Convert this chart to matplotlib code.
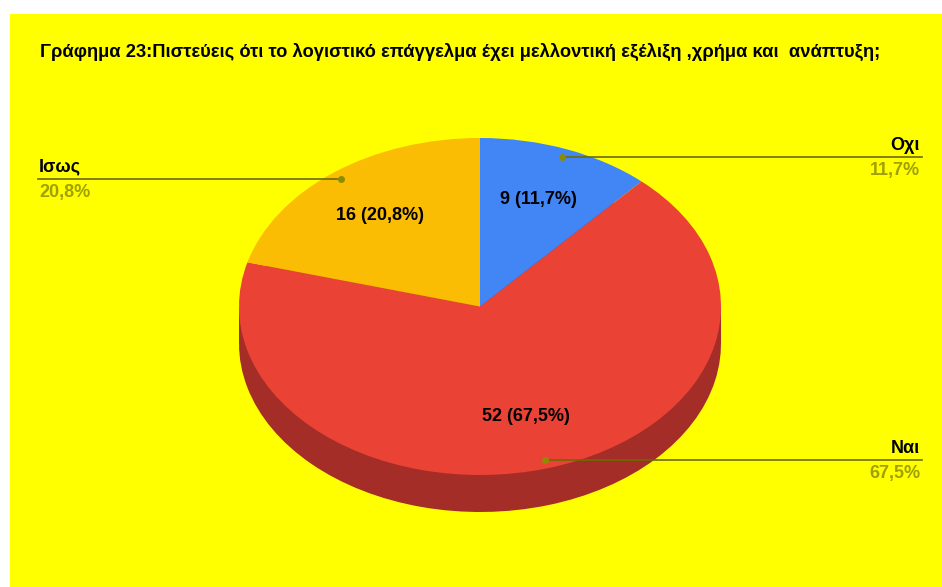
import matplotlib
matplotlib.use("Agg")
import matplotlib.pyplot as plt
import numpy as np
from matplotlib.patches import Rectangle

# data
labels = ["Οχι", "Ναι", "Ισως"]
counts = [9, 52, 16]
colors = ["#4285F4", "#EA4335", "#FBBC04"]
side_colors = ["#2A5BAA", "#A52D27", "#B08402"]
title = "Γράφημα 23:Πιστεύεις ότι το λογιστικό επάγγελμα έχει μελλοντική εξέλιξη ,χρήμα και  ανάπτυξη;"

W, H = 942, 587
fig = plt.figure(figsize=(W / 100, H / 100), dpi=100)
fig.patch.set_facecolor("white")

# overlay axes in pixel coordinates
ax = fig.add_axes([0, 0, 1, 1], zorder=3)
ax.set_xlim(0, W)
ax.set_ylim(H, 0)
ax.axis("off")
ax.patch.set_alpha(0)

# yellow chart background
bg = fig.add_axes([0, 0, 1, 1], zorder=0)
bg.set_xlim(0, W)
bg.set_ylim(H, 0)
bg.axis("off")
bg.add_patch(Rectangle((10, 14), W - 10, H - 14, color="#FFFF00", lw=0))

# pie geometry (pixels)
cx, cy, rx, ry, depth = 480, 306.5, 241, 168.5, 37
d = depth / ry
pax = fig.add_axes([(cx - rx) / W, 1 - (cy + ry + depth) / H,
                    2 * rx / W, (2 * ry + depth) / H], zorder=1)

# 3d side: shifted copy + band
pax.pie(counts, colors=side_colors, startangle=90, counterclock=False,
        center=(0, -d), radius=1, wedgeprops=dict(lw=0))
pax.add_patch(Rectangle((-1, -d), 2, d, color=side_colors[1], lw=0))
total = sum(counts)
wedges, _, autotexts = pax.pie(
    counts, colors=colors, startangle=90, counterclock=False, radius=1,
    wedgeprops=dict(lw=0),
    autopct=lambda p: "{} ({:.1f}%)".format(int(round(p * total / 100)), p).replace(".", ","),
    pctdistance=0.68,
    textprops=dict(fontsize=13, fontweight="bold", color="black",
                   family="Liberation Sans"))
pax.set_aspect("auto")
pax.set_xlim(-1, 1)
pax.set_ylim(-1 - d, 1)
pax.axis("off")
for t in autotexts:
    t.set_zorder(5)

# leader lines + outside labels
line_col = "#6B6B00"
dot_col = "#8C8C00"
pct_col = "#A0A000"
to_px = pax.transData + ax.transData.inverted()
ang = 90.0
for lab, n in zip(labels, counts):
    frac = n / total
    mid = np.deg2rad(ang - frac * 360 / 2)
    ang -= frac * 360
    px, py = to_px.transform((0.95 * np.cos(mid), 0.95 * np.sin(mid)))
    if px >= cx:
        xend, ha = 922, "right"
        xt = 920
    else:
        xend, ha = 38, "left"
        xt = 39
    ax.plot([px, xend], [py, py], color=line_col, lw=1.2, zorder=4)
    ax.plot(px, py, "o", color=dot_col, ms=4, zorder=4)
    ax.text(xt, py - 12, lab, ha=ha, va="center", fontsize=13,
            fontweight="bold", color="black", family="Liberation Sans")
    ax.text(xt, py + 13, "{:.1f}%".format(frac * 100).replace(".", ","),
            ha=ha, va="center", fontsize=13, fontweight="bold",
            color=pct_col, family="Liberation Sans")

ax.text(40, 52, title, ha="left", va="center", fontsize=13.2, fontweight="bold",
        family="Liberation Sans", color="black")

fig.savefig("out.png", dpi=100, facecolor=fig.get_facecolor())
